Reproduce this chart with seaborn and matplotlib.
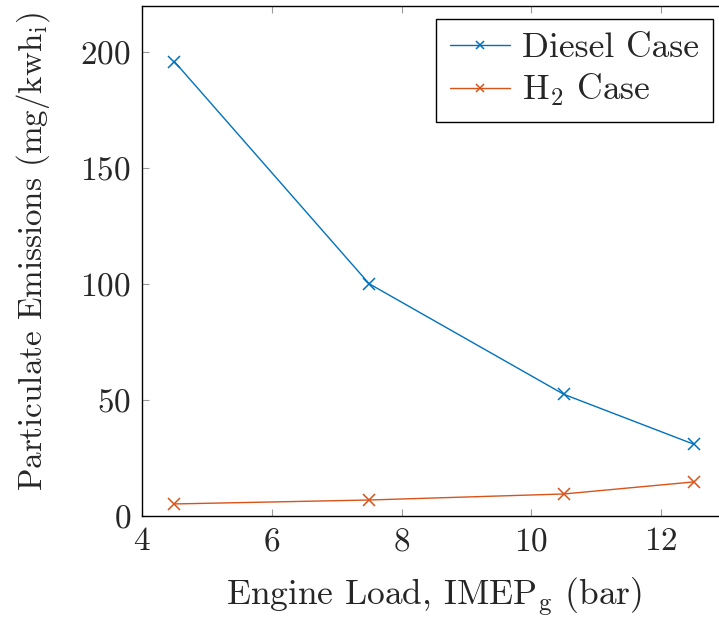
import pandas as pd
import seaborn as sns
import matplotlib.pyplot as plt

# values
engine_load = [4.5, 7.5, 10.5, 12.5]
diesel_pm = [196.0, 100.2, 52.5, 31.0]
h2_pm = [5.2, 6.9, 9.5, 14.7]
series_names = ['Diesel Case', 'H$_2$ Case']

df = pd.DataFrame({
    'load': engine_load * 2,
    'pm': diesel_pm + h2_pm,
    'case': [series_names[0]] * 4 + [series_names[1]] * 4,
})

sns.set_style('ticks')
plt.rcParams['font.family'] = ['cmr10', 'DejaVu Serif']
plt.rcParams['mathtext.fontset'] = 'cm'
plt.rcParams['axes.formatter.use_mathtext'] = True

fig = plt.figure(figsize=(7.19, 6.2), dpi=100)
ax = fig.add_axes([142 / 719, 104 / 620, 584 / 719, 510 / 620])

sns.lineplot(x='load', y='pm', hue='case', data=df, ax=ax,
             palette=['#0072BD', '#D95319'], marker='x', markersize=8,
             markeredgewidth=1.1, linewidth=1.0, dashes=False)
for line in ax.lines:
    line.set_markeredgecolor(line.get_color())

ax.set_xlim(4, 13)
ax.set_ylim(0, 220)
ax.set_xticks([4, 6, 8, 10, 12])
ax.set_yticks([0, 50, 100, 150, 200])
ax.tick_params(direction='in', length=5, width=0.8, color='#999999',
               top=True, right=True, labelsize=24, pad=8)
for s in ax.spines.values():
    s.set_color('black')
    s.set_linewidth(1.0)

ax.set_xlabel('Engine Load, IMEP$_\\mathrm{g}$ (bar)', fontsize=25.5, labelpad=14)
ax.set_ylabel('Particulate Emissions (mg/kwh$_\\mathrm{i}$)', fontsize=23.8, labelpad=20)
ax.yaxis.label.set_y(0.518)

leg = ax.legend(loc='upper right', fontsize=25.5, frameon=True, fancybox=False,
                framealpha=1, edgecolor='black', borderaxespad=0.37,
                handlelength=1.7, handletextpad=0.35, borderpad=0.38,
                labelspacing=0.22)
leg.get_frame().set_linewidth(1.0)
for h in leg.legend_handles:
    h.set_markeredgecolor(h.get_color())
    h.set_markersize(6)

fig.savefig('out.png', dpi=100)
